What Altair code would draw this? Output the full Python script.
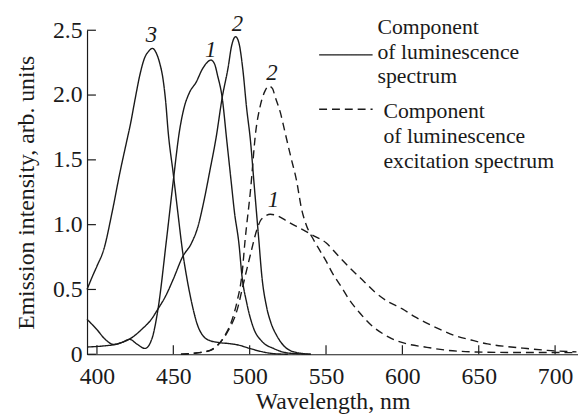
import altair as alt
import pandas as pd

# ---------------- data ----------------
x_ticks = [400, 450, 500, 550, 600, 650, 700]
y_ticks = [0, 0.5, 1.0, 1.5, 2.0, 2.5]

# luminescence components (solid)
s1_x = [393.5, 400, 405, 411, 416, 421.5, 426, 431.5, 436, 440, 445.5, 450, 454, 457, 460.6, 465, 469, 472, 474.6, 477, 479, 482, 485, 488, 490, 493, 495, 498, 502.6, 508, 515.6, 525, 540]
s1_y = [0.27, 0.19, 0.12, 0.075, 0.09, 0.115, 0.08, 0.045, 0.12, 0.35, 0.88, 1.34, 1.72, 1.9, 2.02, 2.1, 2.2, 2.25, 2.27, 2.24, 2.15, 1.98, 1.65, 1.32, 1.1, 0.85, 0.6, 0.4, 0.2, 0.1, 0.045, 0.01, 0.0]

s2_x = [393.5, 400, 405, 411, 416, 421.8, 430, 435, 440, 445, 450, 456, 462, 466, 470, 474, 478, 482, 486, 488, 490.8, 493, 495.5, 498, 500.5, 503, 506, 508, 511, 514, 517.7, 522, 528.5, 540]
s2_y = [0.056, 0.06, 0.065, 0.074, 0.09, 0.12, 0.2, 0.26, 0.35, 0.45, 0.58, 0.75, 0.86, 0.98, 1.18, 1.42, 1.67, 1.98, 2.22, 2.37, 2.45, 2.4, 2.2, 1.9, 1.65, 1.3, 0.88, 0.6, 0.37, 0.24, 0.145, 0.07, 0.02, 0.0]

s3_x = [393.5, 397, 400, 404.5, 410, 415, 419.6, 422, 425, 428, 431, 434, 436.2, 439, 441, 443.3, 445, 446.6, 450, 453, 456, 459, 462, 466, 469, 473, 480, 487, 493, 500, 508, 515.6, 525]
s3_y = [0.5, 0.6, 0.68, 0.81, 1.1, 1.4, 1.65, 1.78, 1.97, 2.15, 2.28, 2.34, 2.36, 2.32, 2.25, 2.12, 1.95, 1.72, 1.39, 1.09, 0.8, 0.58, 0.4, 0.22, 0.15, 0.11, 0.09, 0.082, 0.07, 0.045, 0.02, 0.005, 0.0]

# excitation components (dashed)
d1_x = [455, 465, 474.4, 479, 485.4, 492, 496, 500.3, 504.7, 507, 509.5, 513.5, 518, 524, 530, 535, 541, 550, 558, 567, 575, 582, 590, 600, 608, 617, 625, 634, 645, 655.7, 668, 681.6, 695, 714]
d1_y = [0.0, 0.01, 0.03, 0.07, 0.17, 0.35, 0.55, 0.76, 0.96, 1.03, 1.06, 1.08, 1.07, 1.03, 0.99, 0.96, 0.92, 0.86, 0.76, 0.65, 0.56, 0.48, 0.41, 0.35, 0.29, 0.234, 0.19, 0.145, 0.11, 0.08, 0.06, 0.044, 0.03, 0.018]

d2_x = [455, 465, 474, 479, 484, 488.6, 492, 495, 497, 500.5, 504, 507, 510, 512.5, 515, 516.6, 520, 523, 527, 530.7, 534, 537, 542, 546, 550, 554, 560, 565, 572, 580, 587, 593, 603, 614.7, 630, 647, 670, 714]
d2_y = [0.0, 0.01, 0.03, 0.07, 0.15, 0.27, 0.42, 0.62, 0.88, 1.26, 1.72, 1.92, 2.03, 2.07, 2.05, 1.99, 1.87, 1.72, 1.52, 1.34, 1.12, 1.0, 0.88, 0.8, 0.72, 0.63, 0.52, 0.425, 0.32, 0.22, 0.16, 0.12, 0.08, 0.056, 0.03, 0.018, 0.014, 0.013]

curve_labels = ["3", "1", "2", "2", "1"]
curve_label_x = [435.6, 474.4, 491.9, 514.5, 515.5]
curve_label_y = [2.46, 2.35, 2.55, 2.17, 1.19]

legend_solid_text = ["Component", "of luminescence", "spectrum"]
legend_dashed_text = ["Component", "of luminescence", "excitation spectrum"]

# ---------------- layout / style ----------------
X_MIN, X_MAX = 393.5, 715.0
W, H = 497, 328
FONT = "Liberation Serif, Times New Roman, serif"
INK = "#1a1a1a"

rows = []
for name, kind, xs, ys in [("s1", "solid", s1_x, s1_y), ("s2", "solid", s2_x, s2_y),
                           ("s3", "solid", s3_x, s3_y), ("d1", "dashed", d1_x, d1_y),
                           ("d2", "dashed", d2_x, d2_y)]:
    for a, b in zip(xs, ys):
        rows.append({"wl": a, "val": b, "series": name, "kind": kind})
df = pd.DataFrame(rows)

xscale = alt.Scale(domain=[X_MIN, X_MAX], nice=False, zero=False)
yscale = alt.Scale(domain=[0, 2.5], nice=False)

x_enc = alt.X("wl:Q", scale=xscale, title="Wavelength, nm",
              axis=alt.Axis(values=x_ticks, tickSize=0, grid=False, domainColor=INK,
                            labelFont=FONT, labelFontSize=24, labelColor=INK, labelPadding=11,
                            titleFont=FONT, titleFontSize=24, titleFontWeight="normal",
                            titleColor=INK, titlePadding=1, labelFlush=False))
y_enc = alt.Y("val:Q", scale=yscale, title="Emission intensity, arb. units",
              axis=alt.Axis(values=y_ticks, tickSize=0, grid=False, domainColor=INK,
                            labelExpr="datum.value == 0 ? '0' : format(datum.value, '.1f')",
                            labelFont=FONT, labelFontSize=24, labelColor=INK, labelPadding=5,
                            titleFont=FONT, titleFontSize=24, titleFontWeight="normal",
                            titleColor=INK, titlePadding=14))

lines = alt.Chart(df).mark_line(interpolate="monotone", strokeWidth=1.4, color=INK).encode(
    x=x_enc, y=y_enc, detail="series:N",
    strokeDash=alt.StrokeDash("kind:N", scale=alt.Scale(domain=["solid", "dashed"], range=[[1, 0], [8, 5]]), legend=None),
)

xt = alt.Chart(pd.DataFrame({"t": x_ticks})).mark_rule(color=INK, strokeWidth=1.2, y2Offset=-9).encode(
    x=alt.X("t:Q", scale=xscale), y=alt.datum(0, scale=yscale), y2=alt.datum(0))
yt = alt.Chart(pd.DataFrame({"t": y_ticks})).mark_rule(color=INK, strokeWidth=1.2, x2Offset=9).encode(
    y=alt.Y("t:Q", scale=yscale), x=alt.datum(X_MIN), x2=alt.datum(X_MIN))

lab = alt.Chart(pd.DataFrame({"x": curve_label_x, "y": curve_label_y, "t": curve_labels})).mark_text(
    font=FONT, fontStyle="italic", fontSize=23, color=INK, baseline="middle", align="center").encode(
    x="x:Q", y="y:Q", text="t:N")

# legend (custom)
leg_rows = []
for i, t in enumerate(legend_solid_text):
    leg_rows.append({"x": 583.7, "y": 2.524 - i * 0.19, "t": t})
for i, t in enumerate(legend_dashed_text):
    leg_rows.append({"x": 587.6, "y": 1.876 - i * 0.191, "t": t})
leg_text = alt.Chart(pd.DataFrame(leg_rows)).mark_text(
    font=FONT, fontSize=22, color=INK, align="left", baseline="middle").encode(
    x="x:Q", y="y:Q", text="t:N")

leg_lines = alt.Chart(pd.DataFrame({"x": [545.5, 545.5], "x2": [580.5, 580.5], "y": [2.31, 1.89],
                                    "kind": ["solid", "dashed"]})).mark_rule(strokeWidth=1.4, color=INK).encode(
    x="x:Q", x2="x2:Q", y="y:Q",
    strokeDash=alt.StrokeDash("kind:N", scale=alt.Scale(domain=["solid", "dashed"], range=[[1, 0], [8, 5]]), legend=None))

chart = alt.layer(lines, xt, yt, lab, leg_lines, leg_text).properties(
    width=W, height=H,
    autosize=alt.AutoSizeParams(type="none"),
    padding={"left": 80, "top": 20, "right": 0, "bottom": 62},
).configure_view(stroke=None, clip=False).configure_axis(domainWidth=1.2)

chart.save("out.html", embed_options={"renderer": "svg", "actions": False})
